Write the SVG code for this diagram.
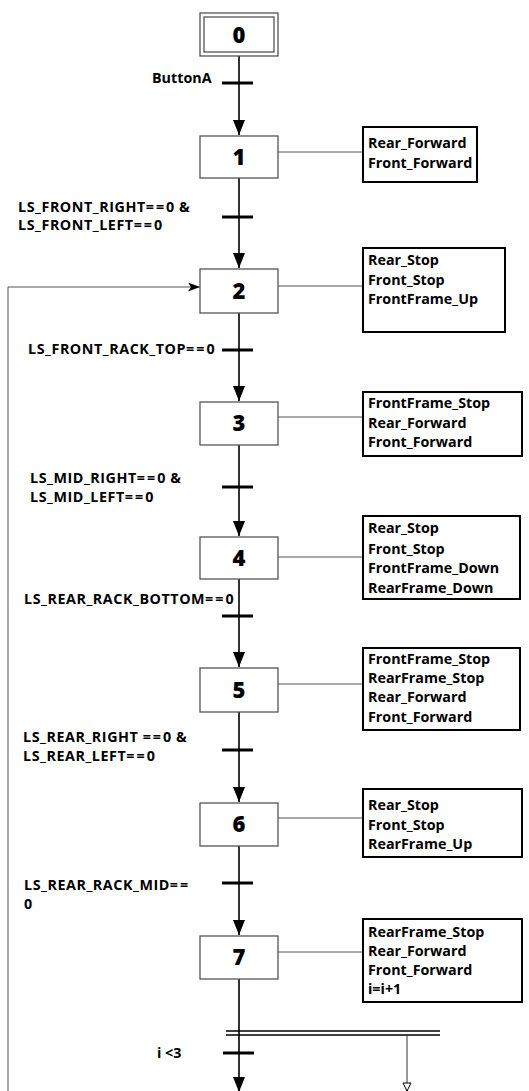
<svg xmlns="http://www.w3.org/2000/svg" width="529" height="1091" viewBox="0 0 529 1091">
<defs>
<style>
.step{fill:#fff;stroke:#555;stroke-width:1.3}
.num{font-family:"Open Sans","Noto Sans",sans-serif;font-weight:800;font-size:22px;text-anchor:middle;fill:#000}
.act{fill:#fff;stroke:#000;stroke-width:2}
.at{font-family:"Open Sans","Noto Sans",sans-serif;font-weight:700;font-size:14.3px;fill:#000}
.lbl{font-family:"Open Sans","Noto Sans",sans-serif;font-weight:700;font-size:14.3px;fill:#000}
.ls{letter-spacing:0.55px}
.eq{letter-spacing:2px}
.flow{stroke:#000;stroke-width:1.6;fill:none}
.link{stroke:#555;stroke-width:1;fill:none}
.bar{stroke:#000;stroke-width:3}
</style>
<marker id="arr" markerUnits="userSpaceOnUse" markerWidth="16" markerHeight="12" refX="15" refY="6" orient="auto" viewBox="0 0 16 12">
<path d="M0,0 L15,6 L0,12 Z" fill="#000"/>
</marker>
<marker id="arrL" markerUnits="userSpaceOnUse" markerWidth="12" markerHeight="9" refX="12" refY="4.5" orient="auto" viewBox="0 0 12 9">
<path d="M0,0 L12,4.5 L0,9 L3,4.5 Z" fill="#000"/>
</marker>
<marker id="arrO" markerUnits="userSpaceOnUse" markerWidth="10" markerHeight="10" refX="9" refY="5" orient="auto" viewBox="0 0 10 10">
<path d="M1,1 L9,5 L1,9 Z" fill="#fff" stroke="#000" stroke-width="1"/>
</marker>
</defs>
<rect width="529" height="1091" fill="#fff"/>

<g id="connectors">
<line class="flow" x1="239" y1="56" x2="239" y2="135" marker-end="url(#arr)"/>
<line class="flow" x1="239" y1="178" x2="239" y2="268" marker-end="url(#arr)"/>
<line class="flow" x1="239" y1="313" x2="239" y2="401" marker-end="url(#arr)"/>
<line class="flow" x1="239" y1="445" x2="239" y2="536" marker-end="url(#arr)"/>
<line class="flow" x1="239" y1="579" x2="239" y2="667" marker-end="url(#arr)"/>
<line class="flow" x1="239" y1="712" x2="239" y2="802" marker-end="url(#arr)"/>
<line class="flow" x1="239" y1="846" x2="239" y2="935" marker-end="url(#arr)"/>
<line class="flow" x1="239" y1="979" x2="239" y2="1092" marker-end="url(#arr)"/>
<path class="link" d="M8,1091 L8,287 L200,287" marker-end="url(#arrL)"/>
<line class="link" x1="278" y1="152" x2="363" y2="152"/>
<line class="link" x1="278" y1="286" x2="363" y2="286"/>
<line class="link" x1="278" y1="417" x2="363" y2="417"/>
<line class="link" x1="278" y1="557" x2="363" y2="557"/>
<line class="link" x1="278" y1="684" x2="363" y2="684"/>
<line class="link" x1="278" y1="818" x2="363" y2="818"/>
<line class="link" x1="278" y1="952" x2="363" y2="952"/>
<line x1="226" y1="1031" x2="440" y2="1031" stroke="#000" stroke-width="1.5"/>
<line x1="226" y1="1035" x2="440" y2="1035" stroke="#000" stroke-width="1.5"/>
<line x1="407" y1="1035" x2="407" y2="1091" stroke="#333" stroke-width="1" marker-end="url(#arrO)"/>
</g>

<g id="transitions">
<g id="t0"><line class="bar" x1="222" y1="83" x2="253" y2="83"/><text class="lbl" x="152" y="83">ButtonA</text></g>
<g id="t1"><line class="bar" x1="222" y1="217" x2="253" y2="217"/><text class="lbl ls" x="18" y="212">LS_FRONT_RIGHT<tspan class="eq">==</tspan>0 &amp;</text><text class="lbl ls" x="18" y="230">LS_FRONT_LEFT<tspan class="eq">==</tspan>0</text></g>
<g id="t2"><line class="bar" x1="222" y1="350" x2="253" y2="350"/><text class="lbl ls" x="28" y="354">LS_FRONT_RACK_TOP<tspan class="eq">==</tspan>0</text></g>
<g id="t3"><line class="bar" x1="222" y1="487" x2="253" y2="487"/><text class="lbl ls" x="30" y="483">LS_MID_RIGHT<tspan class="eq">==</tspan>0 &amp;</text><text class="lbl ls" x="30" y="502">LS_MID_LEFT<tspan class="eq">==</tspan>0</text></g>
<g id="t4"><line class="bar" x1="222" y1="616" x2="253" y2="616"/><text class="lbl ls" x="24" y="604">LS_REAR_RACK_BOTTOM<tspan class="eq">==</tspan>0</text></g>
<g id="t5"><line class="bar" x1="222" y1="750" x2="253" y2="750"/><text class="lbl ls" x="23" y="742">LS_REAR_RIGHT <tspan class="eq">==</tspan>0 &amp;</text><text class="lbl ls" x="23" y="761">LS_REAR_LEFT<tspan class="eq">==</tspan>0</text></g>
<g id="t6"><line class="bar" x1="222" y1="883" x2="253" y2="883"/><text class="lbl ls" x="24" y="890">LS_REAR_RACK_MID<tspan class="eq">==</tspan></text><text class="lbl" x="24" y="909">0</text></g>
<g id="t7"><line class="bar" x1="223" y1="1053" x2="254" y2="1053"/><text class="lbl" x="157" y="1058">i &lt;3</text></g>
</g>

<g id="step0"><rect class="step" x="200" y="13" width="78" height="43"/><rect class="step" x="204" y="17" width="70" height="35" stroke="#999"/><text class="num" x="239" y="43">0</text></g>
<g id="step1"><rect class="step" x="200" y="136" width="78" height="42"/><text class="num" x="239" y="165">1</text></g>
<g id="step2"><rect class="step" x="200" y="269" width="78" height="44"/><text class="num" x="239" y="299">2</text></g>
<g id="step3"><rect class="step" x="200" y="402" width="78" height="43"/><text class="num" x="239" y="431">3</text></g>
<g id="step4"><rect class="step" x="200" y="537" width="78" height="42"/><text class="num" x="239" y="566">4</text></g>
<g id="step5"><rect class="step" x="200" y="668" width="78" height="44"/><text class="num" x="239" y="698">5</text></g>
<g id="step6"><rect class="step" x="200" y="803" width="78" height="43"/><text class="num" x="239" y="832">6</text></g>
<g id="step7"><rect class="step" x="200" y="936" width="78" height="43"/><text class="num" x="239" y="965">7</text></g>

<g id="action1"><rect class="act" x="363" y="127" width="114" height="55"/><text class="at" x="368" y="148">Rear_Forward</text><text class="at" x="368" y="168">Front_Forward</text></g>
<g id="action2"><rect class="act" x="363" y="248" width="142" height="84"/><text class="at" x="368" y="265">Rear_Stop</text><text class="at" x="368" y="285">Front_Stop</text><text class="at" x="368" y="304">FrontFrame_Up</text></g>
<g id="action3"><rect class="act" x="363" y="392" width="159" height="64"/><text class="at" x="368" y="408">FrontFrame_Stop</text><text class="at" x="368" y="428">Rear_Forward</text><text class="at" x="368" y="447">Front_Forward</text></g>
<g id="action4"><rect class="act" x="363" y="516" width="157" height="83"/><text class="at" x="368" y="533">Rear_Stop</text><text class="at" x="368" y="554">Front_Stop</text><text class="at" x="368" y="573">FrontFrame_Down</text><text class="at" x="368" y="593">RearFrame_Down</text></g>
<g id="action5"><rect class="act" x="363" y="648" width="157" height="82"/><text class="at" x="368" y="664">FrontFrame_Stop</text><text class="at" x="368" y="683">RearFrame_Stop</text><text class="at" x="368" y="702">Rear_Forward</text><text class="at" x="368" y="722">Front_Forward</text></g>
<g id="action6"><rect class="act" x="363" y="789" width="159" height="68"/><text class="at" x="368" y="810">Rear_Stop</text><text class="at" x="368" y="830">Front_Stop</text><text class="at" x="368" y="849">RearFrame_Up</text></g>
<g id="action7"><rect class="act" x="363" y="919" width="159" height="83"/><text class="at" x="368" y="937">RearFrame_Stop</text><text class="at" x="368" y="956">Rear_Forward</text><text class="at" x="368" y="975">Front_Forward</text><text class="at" x="368" y="994">i=i+1</text></g>
</svg>
